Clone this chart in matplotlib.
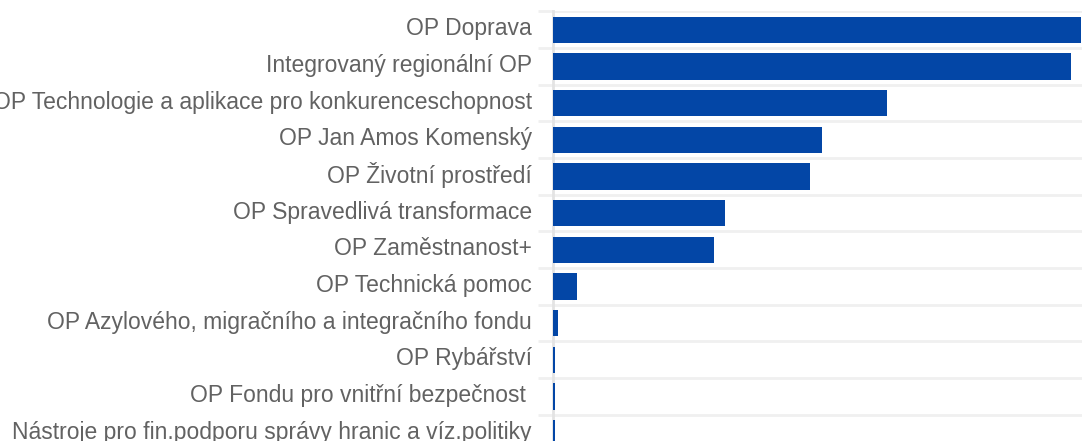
import numpy as np
import matplotlib
matplotlib.use('Agg')
import matplotlib.pyplot as plt
import matplotlib.transforms as mtransforms

# Programme names (top to bottom) and allocations
programmes = [
    'OP Doprava',
    'Integrovaný regionální OP',
    'OP Technologie a aplikace pro konkurenceschopnost',
    'OP Jan Amos Komenský',
    'OP Životní prostředí',
    'OP Spravedlivá transformace',
    'OP Zaměstnanost+',
    'OP Technická pomoc',
    'OP Azylového, migračního a integračního fondu',
    'OP Rybářství',
    'OP Fondu pro vnitřní bezpečnost ',
    'Nástroje pro fin.podporu správy hranic a víz.politiky',
]
allocation = [132.1, 129.6, 83.5, 67.4, 64.4, 43.1, 40.4, 6.1, 1.25, 0.5, 0.5, 0.5]

plt.rcParams['font.family'] = ['Liberation Sans', 'DejaVu Sans']

W, H = 1082, 441
fig = plt.figure(figsize=(W / 100, H / 100), dpi=100)
ax = fig.add_axes([552.5 / W, 1 - 451.4 / H, 1 - 552.5 / W, 440 / H])

pos = np.arange(len(programmes))
ax.barh(pos, allocation, height=0.72, color='#0346a6', zorder=3)

ax.set_ylim(len(programmes) - 0.5, -0.5)
ax.set_xlim(0, max(allocation) * (W - 552.5) / (1081 - 552.5))

ax.set_yticks(pos)
ax.set_yticklabels(programmes, fontsize=16.5, color='#626262')
ax.set_yticks(np.arange(len(programmes) + 1) - 0.5, minor=True)
ax.tick_params(axis='y', which='major', length=0, pad=14.8)
ax.tick_params(axis='y', which='minor', length=11, width=2, color='#f0f0f0')
ax.grid(which='minor', axis='y', color='#f0f0f0', lw=2, zorder=1)
ax.set_xticks([])

# labels sit a little above the bar centres
shift = mtransforms.ScaledTranslation(0, 3.5 / 100, fig.dpi_scale_trans)
for lbl in ax.get_yticklabels():
    lbl.set_transform(lbl.get_transform() + shift)

for s in ['top', 'right', 'bottom']:
    ax.spines[s].set_visible(False)
ax.spines['left'].set_color('#e3e3e3')
ax.spines['left'].set_linewidth(2)
ax.spines['left'].set_zorder(2)

plt.savefig('out.png', dpi=100)
